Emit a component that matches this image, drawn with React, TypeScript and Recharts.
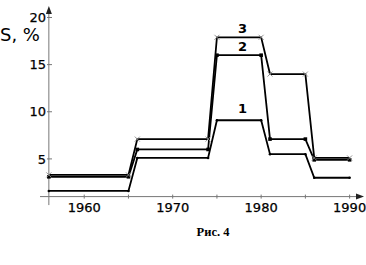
import React from 'react';
import { LineChart, Line, XAxis, YAxis, ReferenceLine, ReferenceDot } from 'recharts';

const years = [1956, 1965, 1966, 1974, 1975, 1980, 1981, 1985, 1986, 1990];
const series1 = [1.6, 1.6, 5.1, 5.1, 9.1, 9.1, 5.5, 5.5, 3.0, 3.0];
const series2 = [3.1, 3.1, 6.0, 6.0, 16.0, 16.0, 7.1, 7.1, 4.9, 4.9];
const series3 = [3.3, 3.3, 7.1, 7.1, 17.9, 17.9, 14.0, 14.0, 5.1, 5.1];
const xTicks = [1960, 1965, 1970, 1975, 1980, 1985, 1990];
const yTicks = [5, 10, 15, 20];
const seriesLabels = [
  { name: '1', x: 1977.9, y: 10.4 },
  { name: '2', x: 1977.9, y: 16.9 },
  { name: '3', x: 1977.9, y: 18.9 },
];

const data = years.map((x, i) => ({ x, s1: series1[i], s2: series2[i], s3: series3[i] }));

const FONT = 'DejaVu Sans, sans-serif';
const AXIS = '#777';

const XTick = (props: any) => {
  const { x, y, payload } = props;
  const v = payload.value as number;
  return (
    <g>
      <line x1={x} x2={x} y1={y - 2} y2={y + 2} stroke={AXIS} strokeWidth={1} />
      {v % 10 === 0 && (
        <text x={x} y={y + 15} textAnchor="middle" fontFamily={FONT} fontSize={13} fontWeight={500} fill="#000" stroke="#000" strokeWidth={0.25}>
          {v}
        </text>
      )}
    </g>
  );
};

const YTick = (props: any) => {
  const { y, payload } = props;
  return (
    <g>
      <line x1={47} x2={52} y1={y} y2={y} stroke={AXIS} strokeWidth={1} />
      <text x={46} y={y} dy="0.36em" textAnchor="end" fontFamily={FONT} fontSize={13} fill="#000" stroke="#000" strokeWidth={0.25}>
        {payload.value}
      </text>
    </g>
  );
};

const SquareDot = (props: any) => {
  const { cx, cy } = props;
  if (cx == null || cy == null) return null;
  return <rect x={cx - 1.8} y={cy - 1.8} width={3.6} height={3.6} fill="#000" />;
};

const CrossDot = (props: any) => {
  const { cx, cy } = props;
  if (cx == null || cy == null) return null;
  return (
    <g stroke="#888" strokeWidth={0.9}>
      <line x1={cx - 2.5} y1={cy - 2.5} x2={cx + 2.5} y2={cy + 2.5} />
      <line x1={cx - 2.5} y1={cy + 2.5} x2={cx + 2.5} y2={cy - 2.5} />
    </g>
  );
};

const SmallDot = (props: any) => {
  const { cx, cy } = props;
  if (cx == null || cy == null) return null;
  return <circle cx={cx} cy={cy} r={1.3} fill="#000" />;
};

const UpArrow = (props: any) => {
  const { cx, cy } = props;
  return <path d={`M${cx},${cy - 3} L${cx - 3},${cy + 5} L${cx + 3},${cy + 5} Z`} fill="#222" />;
};

const RightArrow = (props: any) => {
  const { cx, cy } = props;
  return <path d={`M${cx + 2},${cy} L${cx - 6},${cy - 3} L${cx - 6},${cy + 3} Z`} fill="#222" />;
};

const makeLabelShape = (txt: string) => (props: any) => {
  const { cx, cy } = props;
  return (
    <text x={cx} y={cy} dy="0.36em" textAnchor="middle" fontFamily={FONT} fontWeight="bold" fontSize={13} fill="#000">
      {txt}
    </text>
  );
};

export default function App() {
  return (
    <div style={{ position: 'absolute', left: 0, top: 0, width: 366, height: 265, background: '#fff' }}>
      <LineChart width={366} height={265} data={data} margin={{ top: 9, right: 4, left: 0, bottom: 0 }}>
        <XAxis
          dataKey="x"
          type="number"
          domain={[1955, 1991.4]}
          allowDataOverflow
          ticks={xTicks}
          interval={0}
          tick={<XTick />}
          tickLine={false}
          tickSize={0}
          tickMargin={0}
          height={68.4}
          axisLine={{ stroke: AXIS, strokeWidth: 1 }}
        />
        <YAxis
          type="number"
          domain={[1, 20.9]}
          allowDataOverflow
          ticks={yTicks}
          interval={0}
          tick={<YTick />}
          tickLine={false}
          axisLine={false}
          width={40}
        />
        <ReferenceLine
          segment={[{ x: 1956, y: 0.1 }, { x: 1956, y: 20.9 }]}
          stroke={AXIS}
          strokeWidth={1}
          ifOverflow="visible"
        />
        <ReferenceDot x={1956} y={20.9} r={0} ifOverflow="visible" shape={<UpArrow />} />
        <ReferenceDot x={1991.4} y={1} r={0} ifOverflow="visible" shape={<RightArrow />} />
        <Line dataKey="s1" stroke="#000" strokeWidth={1.8} dot={<SmallDot />} isAnimationActive={false} />
        <Line dataKey="s2" stroke="#000" strokeWidth={1.8} dot={<SquareDot />} isAnimationActive={false} />
        <Line dataKey="s3" stroke="#000" strokeWidth={1.8} dot={<CrossDot />} isAnimationActive={false} />
        {seriesLabels.map((l) => (
          <ReferenceDot key={l.name} x={l.x} y={l.y} r={0} ifOverflow="visible" shape={makeLabelShape(l.name)} />
        ))}
      </LineChart>
      <div
        style={{
          position: 'absolute',
          left: 0,
          top: 25,
          fontFamily: FONT,
          fontSize: 18,
          lineHeight: '20px',
          color: '#000',
          whiteSpace: 'nowrap',
        }}
      >
        S, %
      </div>
      <div
        style={{
          position: 'absolute',
          left: 163,
          width: 100,
          textAlign: 'center',
          top: 225,
          fontFamily: 'Liberation Serif, serif',
          fontWeight: 'bold',
          fontSize: 12.5,
          lineHeight: '15px',
          color: '#000',
        }}
      >
        Рис. 4
      </div>
    </div>
  );
}
